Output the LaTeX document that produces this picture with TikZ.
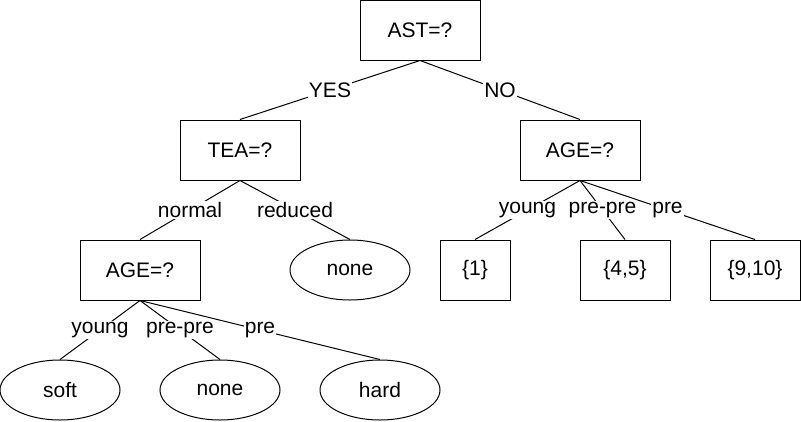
\documentclass[tikz,border=0pt]{standalone}
\usepackage{fontspec}
\setmainfont{Liberation Sans}
\usetikzlibrary{shapes.geometric}

\begin{document}
\begin{tikzpicture}[x=1pt, y=-1pt, line width=1pt,
    every node/.style={font=\fontsize{21}{25}\selectfont},
    box/.style={draw, rectangle, minimum width=120, minimum height=60, inner sep=0pt},
    leaf/.style={draw, ellipse, minimum width=120, minimum height=60, inner sep=0pt},
    lbl/.style={fill=white, inner sep=1pt}]

        \useasboundingbox (0,0) rectangle (801,421);

        % question nodes
        \node[box] (ast) at (420, 30) {AST=?};
        \node[box] (tea) at (240, 150) {TEA=?};
        \node[box] (ageR) at (580, 150) {AGE=?};
        \node[box] (ageL) at (140, 270) {AGE=?};

        % answer nodes
        \node[leaf] (noneR) at (350, 270) {none};
        \node[box, minimum width=70] (s1) at (475, 270) {\{1\}};
        \node[box, minimum width=90] (s45) at (625, 270) {\{4,5\}};
        \node[box, minimum width=90] (s910) at (755, 270) {\{9,10\}};
        \node[leaf] (soft) at (60, 390) {soft};
        \node[leaf] (noneL) at (220, 390) {none};
        \node[leaf] (hard) at (380, 390) {hard};

        \draw (ast.south) -- (tea.north) node[lbl, midway] {YES};
        \draw (ast.south) -- (ageR.north) node[lbl, midway] {NO};

        \draw (tea.south) -- (ageL.north) node[lbl, midway] {normal};
        \draw (tea.south) -- (noneR.north) node[lbl, midway] {reduced};

        \draw (ageR.south) -- (s1.north) node[lbl, midway] {young};
        \draw (ageR.south) -- (s45.north) node[lbl, midway] {pre-pre};
        \draw (ageR.south) -- (s910.north) node[lbl, midway] {pre};

        \draw (ageL.south) -- (soft.north) node[lbl, midway] {young};
        \draw (ageL.south) -- (noneL.north) node[lbl, midway] {pre-pre};
        \draw (ageL.south) -- (hard.north) node[lbl, midway] {pre};

      \end{tikzpicture}
\end{document}
